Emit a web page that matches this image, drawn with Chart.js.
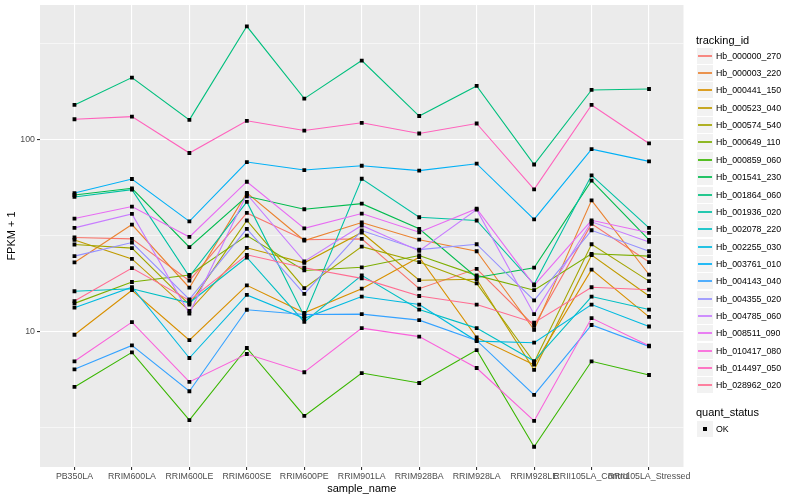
<!DOCTYPE html>
<html>
<head>
<meta charset="utf-8">
<script src="https://cdn.jsdelivr.net/npm/chart.js@4.4.1/dist/chart.umd.min.js"></script>
<style>
  body { margin: 0; background: #fff; font-family: "Liberation Sans", Arial, sans-serif; }
  #wrap { position: relative; width: 800px; height: 500px; }
  .lg-title { position: absolute; left: 696px; font-size: 11px; line-height: 13px; color: #000; white-space: nowrap; }
  .lg-key { position: absolute; left: 697px; width: 16px; height: 16px; background: #F2F2F2; }
  .lg-line { position: absolute; left: 1px; right: 1px; top: 7px; height: 2px; opacity: 0.85; }
  .lg-dot { position: absolute; left: 6px; top: 6px; width: 4px; height: 4px; background: #000; }
  .lg-label { position: absolute; left: 716px; font-size: 8.8px; line-height: 10px; color: #000; white-space: nowrap; }
</style>
</head>
<body>
<div id="wrap">
  <canvas id="myChart" width="800" height="500"></canvas>
  <div id="legend"></div>
</div>
<script>
var sampleNames = ['PB350LA', 'RRIM600LA', 'RRIM600LE', 'RRIM600SE', 'RRIM600PE', 'RRIM901LA',
  'RRIM928BA', 'RRIM928LA', 'RRIM928LE', 'RRII105LA_Control', 'RRII105LA_Stressed'];
var trackingIds = ['Hb_000000_270', 'Hb_000003_220', 'Hb_000441_150', 'Hb_000523_040', 'Hb_000574_540',
  'Hb_000649_110', 'Hb_000859_060', 'Hb_001541_230', 'Hb_001864_060', 'Hb_001936_020',
  'Hb_002078_220', 'Hb_002255_030', 'Hb_003761_010', 'Hb_004143_040', 'Hb_004355_020',
  'Hb_004785_060', 'Hb_008511_090', 'Hb_010417_080', 'Hb_014497_050', 'Hb_028962_020'];
var yTickValues = [10, 100];
var yMinorValues = [3.1623, 31.623, 316.23];

// FPKM + 1 per sample, same order as sampleNames
var hb_000000_270 = [30.9, 30.4, 18.4, 41.5, 30.1, 30.4, 16.7, 21.2, 10.7, 36.4, 23.0];
var hb_000003_220 = [22.9, 36.1, 16.9, 52.8, 29.8, 37.0, 30.1, 26.2, 10.2, 48.3, 19.8];
var hb_000441_150 = [9.6, 16.4, 9.0, 17.4, 12.5, 16.7, 24.4, 9.3, 6.7, 21.0, 11.9];
var hb_000523_040 = [30.0, 23.9, 12.8, 27.3, 22.8, 32.8, 18.5, 18.7, 6.3, 25.0, 15.3];
var hb_000574_540 = [28.4, 27.2, 13.8, 37.9, 16.8, 27.7, 23.0, 17.8, 6.9, 28.5, 18.3];
var hb_000649_110 = [14.0, 18.1, 19.7, 31.6, 20.8, 21.6, 24.9, 19.6, 16.4, 25.4, 24.7];
var hb_000859_060 = [5.13, 7.77, 3.44, 8.19, 3.62, 6.06, 5.38, 7.99, 2.50, 6.98, 5.92];
var hb_001541_230 = [51.5, 55.8, 27.5, 50.7, 43.4, 46.4, 34.3, 19.1, 21.5, 61.2, 30.0];
var hb_001864_060 = [152, 211, 127, 391, 164, 259, 133, 191, 74.3, 182, 184];
var hb_001936_020 = [50.3, 54.9, 19.3, 47.4, 12.0, 62.6, 39.4, 37.9, 17.6, 65.2, 34.7];
var hb_002078_220 = [16.2, 16.7, 14.1, 24.3, 11.2, 19.6, 13.0, 10.4, 7.0, 15.2, 13.0];
var hb_002255_030 = [13.3, 17.0, 7.26, 15.5, 11.7, 15.2, 13.8, 8.9, 8.73, 13.8, 10.6];
var hb_003761_010 = [52.7, 62.4, 37.5, 76.5, 69.5, 73.2, 69.0, 75.0, 38.4, 89.4, 77.1];
var hb_004143_040 = [6.34, 8.45, 4.87, 12.97, 12.26, 12.3, 11.45, 8.97, 4.66, 10.8, 8.35];
var hb_004355_020 = [24.7, 29.1, 14.7, 34.3, 15.7, 33.6, 26.7, 28.5, 14.5, 33.7, 26.2];
var hb_004785_060 = [34.7, 41.0, 12.4, 52.0, 23.2, 35.7, 26.3, 43.2, 12.3, 37.3, 29.3];
var hb_008511_090 = [38.8, 44.8, 31.1, 60.4, 34.5, 41.2, 32.9, 43.7, 17.4, 38.0, 32.7];
var hb_010417_080 = [6.98, 11.18, 5.45, 7.62, 6.12, 10.4, 9.39, 6.44, 3.41, 11.73, 8.42];
var hb_014497_050 = [128, 132, 85.3, 125.6, 111.7, 122.6, 107.8, 121.6, 55.1, 152, 95.7];
var hb_028962_020 = [14.4, 21.4, 14.5, 25.1, 21.5, 18.9, 15.3, 13.8, 11.1, 17.0, 16.5];

var seriesValues = [hb_000000_270, hb_000003_220, hb_000441_150, hb_000523_040, hb_000574_540,
  hb_000649_110, hb_000859_060, hb_001541_230, hb_001864_060, hb_001936_020,
  hb_002078_220, hb_002255_030, hb_003761_010, hb_004143_040, hb_004355_020,
  hb_004785_060, hb_008511_090, hb_010417_080, hb_014497_050, hb_028962_020];

// ggplot default hue palette, 20 levels
var hueColors = ['#F8766D', '#EA8331', '#D89000', '#C09B00', '#A3A500', '#7CAE00', '#39B600', '#00BB4E',
  '#00BF7D', '#00C1A3', '#00BFC4', '#00BAE0', '#00B0F6', '#35A2FF', '#9590FF', '#C77CFF',
  '#E76BF3', '#FA62DB', '#FF62BC', '#FF6C91'];

var fontFamily = '"Liberation Sans", Arial, sans-serif';

var datasets = trackingIds.map(function (id, i) {
  return {
    type: 'line',
    label: id,
    data: seriesValues[i].map(function (v, j) { return { x: j, y: v }; }),
    borderColor: hueColors[i],
    borderWidth: 1.1,
    pointRadius: 0,
    fill: false,
    tension: 0,
    order: trackingIds.length - i
  };
});

var okPoints = [];
seriesValues.forEach(function (vals) {
  vals.forEach(function (v, j) { okPoints.push({ x: j, y: v }); });
});
datasets.push({
  type: 'scatter',
  label: 'OK',
  data: okPoints,
  pointStyle: 'rect',
  pointRadius: 2.7,
  backgroundColor: '#000',
  borderColor: '#000',
  borderWidth: 0,
  order: 0
});

function isMajor(v) { return yTickValues.indexOf(v) >= 0; }

var panelBg = {
  id: 'panelBg',
  beforeDraw: function (chart) {
    var a = chart.chartArea, ctx = chart.ctx;
    ctx.save();
    ctx.fillStyle = '#EBEBEB';
    ctx.fillRect(a.left, a.top, a.right - a.left, a.bottom - a.top);
    ctx.restore();
  }
};

var config = {
  type: 'line',
  data: { datasets: datasets },
  options: {
    responsive: false,
    animation: false,
    events: [],
    layout: { padding: { left: 0, right: 116.5, top: 5, bottom: 0 } },
    plugins: { legend: { display: false }, tooltip: { enabled: false } },
    scales: {
      x: {
        type: 'linear',
        min: -0.6,
        max: 10.6,
        afterBuildTicks: function (scale) {
          scale.ticks = sampleNames.map(function (n, i) { return { value: i }; });
        },
        afterFit: function (scale) { scale.height = 33; scale.paddingLeft = 0; scale.paddingRight = 0; },
        ticks: {
          autoSkip: false, maxRotation: 0, minRotation: 0, padding: 1,
          color: '#4D4D4D', font: { size: 8.8, family: fontFamily },
          callback: function (v) { return sampleNames[v] || ''; }
        },
        grid: { color: '#FFFFFF', lineWidth: 1.1, tickLength: 3, tickColor: '#333333', drawTicks: true },
        border: { display: false },
        title: { display: true, text: 'sample_name', color: '#000', font: { size: 11, family: fontFamily }, padding: { top: 0, bottom: 4 } }
      },
      y: {
        type: 'logarithmic',
        min: 1.96,
        max: 505,
        afterBuildTicks: function (scale) {
          scale.ticks = yMinorValues.concat(yTickValues).sort(function (a, b) { return a - b; })
            .map(function (v) { return { value: v }; });
        },
        afterFit: function (scale) { scale.width = 40; scale.paddingTop = 0; scale.paddingBottom = 0; },
        ticks: {
          autoSkip: false, padding: 2,
          color: '#4D4D4D', font: { size: 8.8, family: fontFamily },
          callback: function (v) { return isMajor(v) ? String(v) : ''; }
        },
        grid: {
          color: '#FFFFFF',
          lineWidth: function (c) { return c.tick && isMajor(c.tick.value) ? 1.1 : 0.55; },
          tickLength: 3,
          tickColor: function (c) { return c.tick && isMajor(c.tick.value) ? '#333333' : 'rgba(0,0,0,0)'; },
          drawTicks: true
        },
        border: { display: false },
        title: { display: true, text: 'FPKM + 1', color: '#000', font: { size: 11, family: fontFamily }, padding: { top: 5, bottom: 0 } }
      }
    }
  },
  plugins: [panelBg]
};

var myChart = new Chart(document.getElementById('myChart'), config);

// legend, ggplot style
var legend = document.getElementById('legend');
var keyStep = 17.35;
var keyTop = 47.7;
function addEl(cls, top, text) {
  var el = document.createElement('div');
  el.className = cls;
  el.style.top = top + 'px';
  if (text) el.textContent = text;
  legend.appendChild(el);
  return el;
}
addEl('lg-title', 34, 'tracking_id');
trackingIds.forEach(function (id, i) {
  var top = Math.round(keyTop + i * keyStep);
  var key = addEl('lg-key', top);
  var line = document.createElement('div');
  line.className = 'lg-line';
  line.style.background = hueColors[i];
  key.appendChild(line);
  addEl('lg-label', top + 3, id);
});
addEl('lg-title', 405.5, 'quant_status');
var okTop = 421;
var okKey = addEl('lg-key', okTop);
var dot = document.createElement('div');
dot.className = 'lg-dot';
okKey.appendChild(dot);
addEl('lg-label', okTop + 3, 'OK');
</script>
</body>
</html>
